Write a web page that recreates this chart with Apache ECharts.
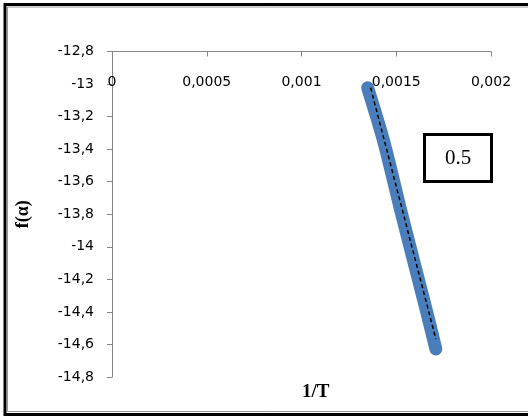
<!DOCTYPE html>
<html>
<head>
<meta charset="utf-8">
<script src="https://cdn.jsdelivr.net/npm/echarts@6/dist/echarts.min.js"></script>
<style>
  html, body { margin: 0; padding: 0; background: #fff; }
  #chart { width: 528px; height: 418px; }
</style>
</head>
<body>
<div id="chart"></div>
<script>
// Measured points: inverse temperature (1/T) and f(alpha)
const invT   = [0.001349, 0.001434, 0.001525, 0.001657, 0.001709];
const fAlpha = [-13.023, -13.353, -13.783, -14.383, -14.628];

// Linear fit endpoints
const fitX = [0.001365, 0.001709];
const fitY = [-13.023, -14.567];

const boxLabel = '0.5';
const xTitle = '1/T';
const yTitle = 'f(\u03b1)';

const fmt = v => String(parseFloat(v.toFixed(6))).replace('.', ',');

const chart = echarts.init(document.getElementById('chart'), null, { renderer: 'canvas' });

const tickFont = { color: '#000', fontFamily: 'DejaVu Sans', fontSize: 14 };

chart.setOption({
  animation: false,
  backgroundColor: '#ffffff',
  grid: { left: 112, right: 37, top: 51.5, bottom: 41 },
  xAxis: {
    type: 'value',
    position: 'top',
    min: 0, max: 0.002, interval: 0.0005,
    axisLine: { show: true, onZero: false, lineStyle: { color: '#868686', width: 1 } },
    axisTick: { show: true, inside: true, length: 5, lineStyle: { color: '#868686' } },
    axisLabel: Object.assign({ inside: true, margin: 24, formatter: fmt }, tickFont),
    splitLine: { show: false }
  },
  yAxis: {
    type: 'value',
    min: -14.8, max: -12.8, interval: 0.2,
    name: yTitle,
    nameLocation: 'middle',
    nameGap: 80,
    nameRotate: 90,
    nameTextStyle: { fontFamily: 'Liberation Serif, Times New Roman', fontWeight: 'bold', fontSize: 18, color: '#000' },
    axisLine: { show: true, onZero: false, lineStyle: { color: '#868686', width: 1 } },
    axisTick: { show: true, inside: false, length: 5, lineStyle: { color: '#868686' } },
    axisLabel: Object.assign({ margin: 18, formatter: fmt }, tickFont),
    splitLine: { show: false }
  },
  series: [
    {
      type: 'line',
      data: invT.map((x, i) => [x, fAlpha[i]]),
      symbol: 'none',
      smooth: 0.3,
      lineStyle: { color: '#4a7ebb', width: 13, cap: 'round', join: 'round' },
      z: 2
    },
    {
      type: 'line',
      data: fitX.map((x, i) => [x, fitY[i]]),
      symbol: 'none',
      lineStyle: { color: '#000', width: 1.5, type: [4, 3] },
      z: 3
    }
  ],
  graphic: [
    {
      type: 'rect',
      shape: { x: 5, y: 4.5, width: 540, height: 410 },
      style: { fill: null, stroke: '#000', lineWidth: 3 },
      silent: true
    },
    {
      type: 'rect',
      shape: { x: 7.5, y: 7, width: 540, height: 404.5 },
      style: { fill: null, stroke: '#999', lineWidth: 1 },
      silent: true
    },
    {
      type: 'text',
      left: 302, top: 383,
      style: {
        text: xTitle, x: 0, y: 0,
        align: 'center', verticalAlign: 'middle',
        font: 'bold 19px "Liberation Serif", "Times New Roman"', fill: '#000'
      }
    },
    {
      type: 'group',
      left: 423, top: 133,
      children: [
        {
          type: 'rect',
          shape: { x: 1.5, y: 1.5, width: 67, height: 47 },
          style: { fill: '#fff', stroke: '#000', lineWidth: 3 }
        },
        {
          type: 'text',
          style: {
            text: boxLabel, x: 35, y: 25,
            align: 'center', verticalAlign: 'middle',
            font: '21px "Liberation Serif", "Times New Roman"', fill: '#000'
          }
        }
      ]
    }
  ]
});
</script>
</body>
</html>
